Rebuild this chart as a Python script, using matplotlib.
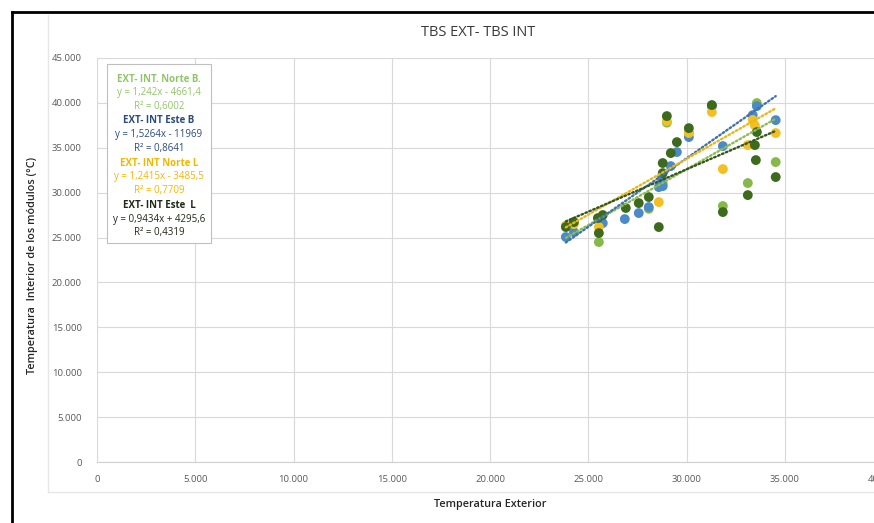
import matplotlib
matplotlib.use("Agg")
import matplotlib.pyplot as plt
from matplotlib.patches import Rectangle
from matplotlib.lines import Line2D
import numpy as np

plt.rcParams['font.family'] = ['Open Sans', 'DejaVu Sans']

# ---------------- data ----------------
series_names = ["EXT- INT. Norte B.", "EXT- INT Este B", "EXT- INT Norte L", "EXT- INT Este  L"]

norte_b_x = [23860, 24270, 25540, 28080, 28790, 29000, 30120, 31290, 31850, 33120, 33580, 34540]
norte_b_y = [26300, 26700, 24500, 28200, 31000, 37800, 36700, 39700, 28510, 31070, 39980, 33410]

este_b_x = [23860, 24270, 25740, 26860, 27570, 28080, 28590, 28790, 28740, 29200, 29510, 30120,
            31290, 31850, 33370, 33580, 34540]
este_b_y = [25060, 25610, 26610, 27060, 27730, 28400, 30620, 30730, 31600, 32960, 34520, 36190,
            39640, 35190, 38640, 39640, 38080]

norte_l_x = [23860, 24270, 25540, 28590, 29000, 30120, 31290, 31850, 33120, 33370, 33480, 34540]
norte_l_y = [26280, 26500, 26170, 28950, 37970, 36640, 38980, 32630, 35300, 38100, 37500, 36640]

este_l_x = [23860, 24270, 25490, 25740, 25540, 26910, 27570, 28080, 28590, 28790, 28790, 29000,
            29200, 29510, 30120, 31290, 31850, 33120, 33480, 33530, 33580, 34540]
este_l_y = [26170, 26730, 27170, 27510, 25500, 28290, 28840, 29510, 26170, 33300, 32180, 38530,
            34410, 35630, 37190, 39760, 27840, 29730, 35300, 33630, 36750, 31740]

trend_slope = [1.242, 1.5264, 1.2415, 0.9434]
trend_intercept = [-4661.4, -11969, -3485.5, 4295.6]
trend_r2 = [0.6002, 0.8641, 0.7709, 0.4319]

x_ticks = [0, 5000, 10000, 15000, 20000, 25000, 30000, 35000, 40000]
y_ticks = [0, 5000, 10000, 15000, 20000, 25000, 30000, 35000, 40000, 45000]

# ---------------- styles ----------------
marker_colors = ["#86b84a", "#4a8ac9", "#f2c022", "#3e6a1e"]
line_colors = ["#8cbc52", "#3f72ab", "#e9b718", "#34561c"]
text_colors = ["#93c46c", "#2c4c78", "#f0b800", "#1f2a16"]

W, H = 874, 523
fig = plt.figure(figsize=(W / 100, H / 100), dpi=100)

def fx(px):
    return px / W

def fy(py):
    return 1 - py / H

ax_left, ax_right, ax_top, ax_bot = 97, 883, 58, 462
ax = fig.add_axes([fx(ax_left), fy(ax_bot), fx(ax_right - ax_left), (ax_bot - ax_top) / H])
ax.set_xlim(0, 40000)
ax.set_ylim(0, 45000)

def fmt(v):
    return f"{v:,.0f}".replace(",", ".")

ax.set_xticks(x_ticks)
ax.set_xticklabels([fmt(v) for v in x_ticks])
ax.set_yticks(y_ticks)
ax.set_yticklabels([fmt(v) for v in y_ticks])
ax.tick_params(length=0, labelsize=6.8, colors="#595959", pad=9)
ax.tick_params(axis='y', pad=11)
ax.grid(True, color="#d9d9d9", linewidth=0.8)
ax.set_axisbelow(True)
for s in ["top", "right", "left"]:
    ax.spines[s].set_visible(False)
ax.spines["bottom"].set_color("#d0d0d0")

xs = [norte_b_x, este_b_x, norte_l_x, este_l_x]
ys = [norte_b_y, este_b_y, norte_l_y, este_l_y]
for i in range(4):
    ax.scatter(xs[i], ys[i], s=50, color=marker_colors[i], edgecolors='none', zorder=3 + i)

for i in range(4):
    x0, x1 = min(xs[i]), max(xs[i])
    tx = np.array([x0, x1])
    ty = trend_slope[i] * tx + trend_intercept[i]
    ax.plot(tx, ty, color=line_colors[i], linewidth=1.7, linestyle=(0, (0.7, 1.1)),
            dash_capstyle='round', zorder=10 + i)

# titles and axis labels
fig.text(fx(478), fy(33), "TBS EXT- TBS INT", ha='center', va='center', fontsize=10.5, color="#3a3a3a")
fig.text(fx(490), fy(505), "Temperatura Exterior", ha='center', va='center', fontsize=7.8,
         color="#262626", fontweight='semibold')
fig.text(fx(33), fy(266), "Temperatura  Interior de los módulos (°C)", ha='center', va='center',
         rotation=90, fontsize=7.8, color="#262626", fontweight='semibold')

# legend box with equations
fig.patches.append(Rectangle((fx(107), fy(243)), fx(211 - 107), (243 - 64) / H,
                             transform=fig.transFigure, facecolor='white', edgecolor='#bfbfbf',
                             linewidth=0.8, zorder=20))
line_y = [[80, 93, 106], [121, 135, 149], [163, 176, 190], [205, 219, 233]]
for i in range(4):
    a, b, r = trend_slope[i], trend_intercept[i], trend_r2[i]
    sign = "+" if b >= 0 else "-"
    eq = f"y = {a:g}x {sign} {abs(b):g}".replace(".", ",")
    r2 = f"R² = {r:.4f}".replace(".", ",")
    lines = [series_names[i], eq, r2]
    for j, t in enumerate(lines):
        fig.text(fx(159), fy(line_y[i][j]), t, ha='center', va='center', fontsize=7.0,
                 color=text_colors[i], fontweight='bold' if j == 0 else 'normal', zorder=21)

# frames
fig.add_artist(Line2D([fx(48), fx(48)], [fy(15), fy(492)], color="#e6e6e6", linewidth=1,
                      transform=fig.transFigure))
fig.add_artist(Line2D([fx(48), fx(874)], [fy(492), fy(492)], color="#e6e6e6", linewidth=1,
                      transform=fig.transFigure))
fig.add_artist(Line2D([fx(12), fx(12)], [fy(12), fy(523)], color="black", linewidth=2,
                      transform=fig.transFigure))
fig.add_artist(Line2D([fx(12), fx(874)], [fy(12), fy(12)], color="black", linewidth=2,
                      transform=fig.transFigure))

fig.savefig("out.png", dpi=100)
